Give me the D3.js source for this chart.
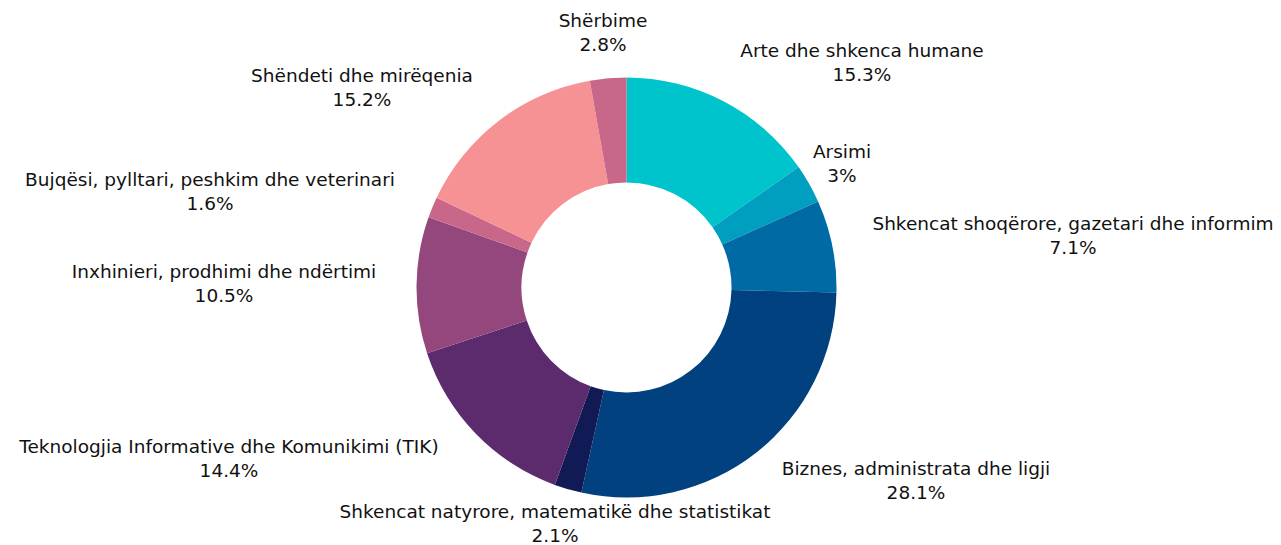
<!DOCTYPE html>
<html lang="en">
<head>
    <meta charset="UTF-8">
    <title>Donut</title>
    <script src="https://cdn.jsdelivr.net/npm/d3@7"></script>
    <style>
        body { margin: 0; background: #fff; }
        svg text { font-family: "DejaVu Sans", sans-serif; font-size: 18.5px; fill: #111; }
    </style>
</head>
<body>
    <div id="chart"></div>

    <script>
        const categories = [
            "Arte dhe shkenca humane",
            "Arsimi",
            "Shkencat shoqërore, gazetari dhe informim",
            "Biznes, administrata dhe ligji",
            "Shkencat natyrore, matematikë dhe statistikat",
            "Teknologjia  Informative dhe Komunikimi (TIK)",
            "Inxhinieri, prodhimi dhe ndërtimi",
            "Bujqësi, pylltari, peshkim dhe veterinari",
            "Shëndeti dhe mirëqenia",
            "Shërbime"
        ];
        const values = [15.3, 3, 7.1, 28.1, 2.1, 14.4, 10.5, 1.6, 15.2, 2.8];
        const colors = ["#00c4cc", "#009fbf", "#006aa4", "#01417f", "#111a55",
                        "#5c2b6d", "#94477c", "#c9678a", "#f79294", "#c9678a"];

        // hand placed label anchors (centre x, first line baseline)
        const labelPos = [
            [862, 57], [842, 158], [1073, 230], [916, 475], [555, 518],
            [229, 453], [224, 278], [210, 186], [362, 82], [603, 27]
        ];

        const width = 1281;
        const height = 545;
        const cx = 626.5, cy = 287.5;
        const outerR = 210, innerR = 105;

        const data = categories.map((c, i) => ({name: c, value: values[i], color: colors[i], pos: labelPos[i]}));

        const svg = d3.select("#chart").append("svg")
            .attr("width", width)
            .attr("height", height);

        const pie = d3.pie().value(d => d.value).sort(null);
        const arc = d3.arc().innerRadius(innerR).outerRadius(outerR);

        svg.append("g")
            .attr("transform", `translate(${cx},${cy})`)
            .selectAll("path")
            .data(pie(data))
            .join("path")
            .attr("d", arc)
            .attr("fill", d => d.data.color);

        const label = svg.append("g")
            .selectAll("text")
            .data(data)
            .join("text")
            .attr("text-anchor", "middle")
            .attr("transform", d => `translate(${d.pos[0]},${d.pos[1]})`);

        label.append("tspan")
            .attr("x", 0)
            .text(d => d.name);
        label.append("tspan")
            .attr("x", 0)
            .attr("dy", 24)
            .text(d => d.value + "%");
    </script>
</body>
</html>
